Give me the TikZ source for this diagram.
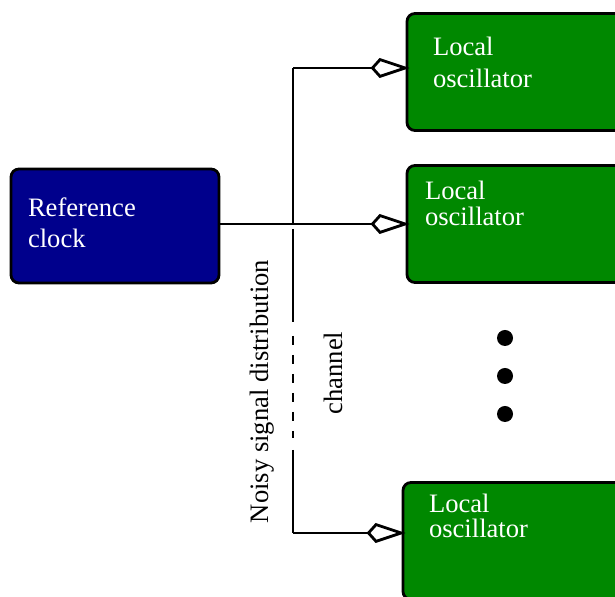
\documentclass[tikz,border=0pt]{standalone}
\usepackage{fontspec}
\setmainfont{Liberation Serif}
\usepackage{xcolor}
\usetikzlibrary{positioning}
\usetikzlibrary{arrows.meta}
\definecolor{refblue}{RGB}{0,0,140}
\definecolor{oscgreen}{RGB}{0,136,0}

\begin{document}
\begin{tikzpicture}[x=0.5pt, y=0.5pt, font=\fontsize{13.3}{15.5}\selectfont,
	  box/.style={rectangle, rounded corners=4pt, draw=black, line width=1.4pt, minimum height=58.5pt},
	  boxtext/.style={anchor=north west, inner sep=0pt, align=left, text=white},
	  sig/.style={line width=1.4pt, shorten >=-2pt, -{Kite[open, fill=white, length=19.5pt, width=10pt, inset=4.5pt]}},
	  bus/.style={line width=1.4pt},
	  dotmark/.style={circle, fill=black, inner sep=0pt, minimum size=8pt}]
	  \useasboundingbox (0,0) rectangle (615,597);
	  \clip (0,0) rectangle (615,597);
	  \node[box, fill=refblue, minimum width=104pt, minimum height=57pt] (ref) at (115,371) {};
	  \node[box, fill=oscgreen, minimum width=120pt] (osc1) at (527,525) {};
	  \node[box, fill=oscgreen, minimum width=120pt] (osc2) at (527,373) {};
	  \node[box, fill=oscgreen, minimum width=120pt] (osc3) at (523,56) {};
	  \node[boxtext, font=\fontsize{13.3}{15.5}\selectfont, below right=15pt and 9pt of ref.north west] (reftext) {Reference\\clock};
	  \node[boxtext, font=\fontsize{13.3}{16}\selectfont, below right=12.5pt and 13.5pt of osc1.north west] (osc1text) {Local\\oscillator};
	  \node[boxtext, font=\fontsize{13.3}{13}\selectfont, below right=8.5pt and 9.5pt of osc2.north west] (osc2text) {Local\\oscillator};
	  \node[boxtext, font=\fontsize{13.3}{12.5}\selectfont, below right=6.5pt and 13.5pt of osc3.north west] (osc3text) {Local\\oscillator};
	  \node[rotate=90, inner sep=0pt] (noisy) at (262,205.5) {Noisy signal distribution};
	  \node[rotate=90, inner sep=0pt] (channel) at (333.5,224) {channel};
	  \node[dotmark] (dot1) at (505,259) {};
	  \node[dotmark] (dot2) at (505,221) {};
	  \node[dotmark] (dot3) at (505,183) {};
	  \coordinate (bustop) at (293,529);
	  \coordinate (busmid) at (293,368);
	  \coordinate (busgap) at (293,275);
	  \coordinate (dashtop) at (293,261);
	  \coordinate (dashbot) at (293,159);
	  \coordinate (busrest) at (293,147);
	  \coordinate (busbot) at (293,64);
	  \draw[bus] (bustop) -- (bustop |- osc2.west);
	  \draw[sig] (bustop) -- (bustop -| osc1.west);
	  \draw[sig] (ref.east |- osc2.west) -- (osc2.west);
	  \draw[bus] (busmid) -- (busgap);
	  \draw[bus, dash pattern=on 4.5pt off 5pt] (dashtop) -- (dashbot);
	  \draw[bus] (busrest) -- (busbot);
	  \draw[sig] (busbot) -- (busbot -| osc3.west);
	\end{tikzpicture}
\end{document}
